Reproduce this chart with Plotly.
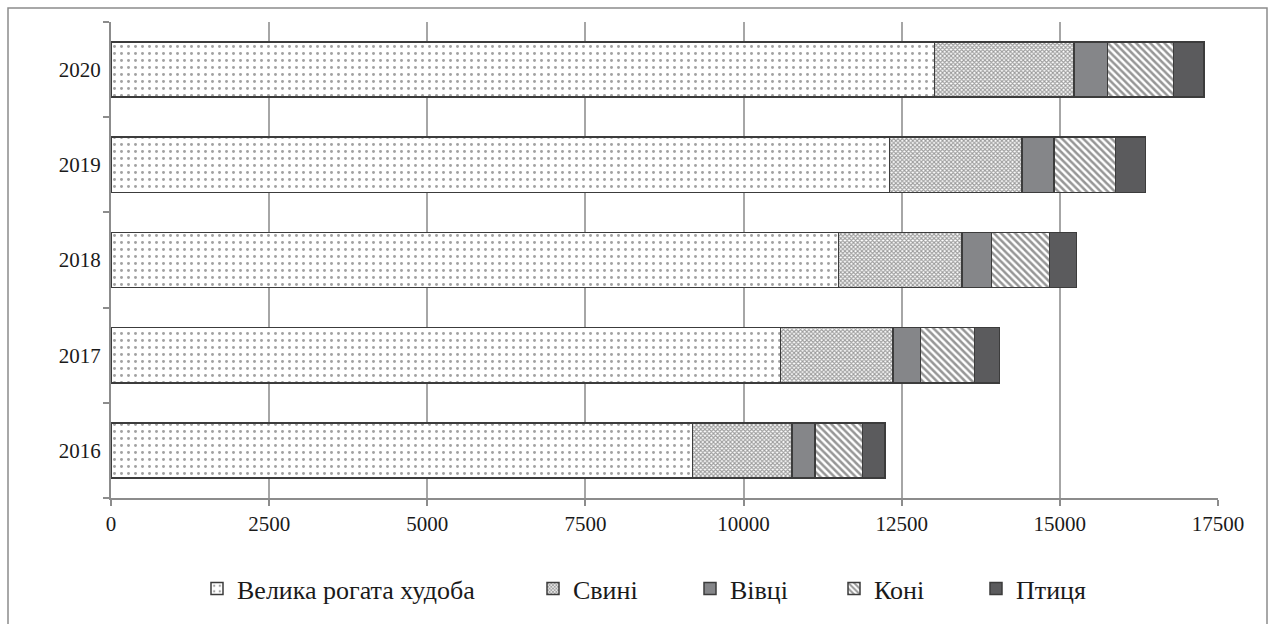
import plotly.graph_objects as go

years = ["2016", "2017", "2018", "2019", "2020"]
series_names = ["Велика рогата худоба", "Свині", "Вівці", "Коні", "Птиця"]
cattle = [9195, 10584, 11502, 12305, 13015]
pigs = [1568, 1779, 1949, 2094, 2205]
sheep = [369, 432, 467, 506, 536]
horses = [747, 852, 919, 976, 1040]
poultry = [358, 395, 426, 470, 484]
x_ticks = [0, 2500, 5000, 7500, 10000, 12500, 15000, 17500]

series_values = [cattle, pigs, sheep, horses, poultry]
styles = [
    dict(color="white", pattern=dict(shape=".", fgcolor="#444444", bgcolor="white", size=7, solidity=0.14)),
    dict(color="white", pattern=dict(shape="x", fgcolor="#3a3a3a", bgcolor="white", size=3, solidity=0.6)),
    dict(color="#858689"),
    dict(color="white", pattern=dict(shape="\\", fgcolor="#2e2e2e", bgcolor="white", size=5, solidity=0.5)),
    dict(color="#5b5b5d"),
]

FONT = "Liberation Serif"

W, H = 1274, 624
ML, MT, MR, MB = 111, 22, 56, 124
PW = W - ML - MR
PH = H - MT - MB

def px_to_paper_x(px):
    return (px - ML) / PW

def px_to_paper_y(py):
    return 1 - (py - MT) / PH

legend_left_px = [197, 533, 690, 834, 976]
legend_keys = ["legend", "legend2", "legend3", "legend4", "legend5"]

fig = go.Figure()
for name, vals, st, lk in zip(series_names, series_values, styles, legend_keys):
    marker = dict(st)
    marker["line"] = dict(color="#3c3c3c", width=1.5)
    fig.add_trace(go.Bar(y=years, x=vals, name=name, orientation="h",
                         marker=marker, legend=lk, showlegend=True))

legend_layouts = {}
for lk, lx in zip(legend_keys, legend_left_px):
    legend_layouts[lk] = dict(
        orientation="h",
        x=px_to_paper_x(lx),
        xanchor="left",
        y=px_to_paper_y(591),
        yanchor="middle",
        font=dict(family=FONT, size=26, color="#1a1a1a"),
        bgcolor="rgba(0,0,0,0)",
        itemwidth=30,
        visible=True,
    )

fig.update_layout(
    showlegend=True,
    barmode="stack",
    bargap=0.42,
    width=W,
    height=H,
    margin=dict(l=ML, r=MR, t=MT, b=MB),
    paper_bgcolor="white",
    plot_bgcolor="white",
    font=dict(family=FONT, size=21, color="#1a1a1a"),
    xaxis=dict(
        range=[0, 17500],
        tickvals=x_ticks,
        ticktext=[str(v) for v in x_ticks],
        showgrid=True,
        gridcolor="#a6a6a6",
        gridwidth=1.5,
        showline=True,
        linecolor="#8c8c8c",
        linewidth=2,
        ticks="outside",
        ticklen=6,
        tickcolor="#8c8c8c",
        tickwidth=1.5,
        zeroline=False,
        tickfont=dict(family=FONT, size=21),
    ),
    yaxis=dict(
        type="category",
        categoryorder="array",
        categoryarray=years,
        showline=True,
        linecolor="#8c8c8c",
        linewidth=2,
        ticks="outside",
        tickson="boundaries",
        ticklen=6,
        tickcolor="#8c8c8c",
        tickwidth=1.5,
        ticklabelstandoff=4,
        showgrid=False,
        tickfont=dict(family=FONT, size=21),
    ),
    shapes=[
        dict(type="rect", xref="paper", yref="paper",
             x0=px_to_paper_x(8), x1=px_to_paper_x(1267),
             y0=px_to_paper_y(640), y1=px_to_paper_y(8),
             line=dict(color="#8c8c8c", width=1.5), fillcolor="rgba(0,0,0,0)", layer="below"),
    ],
    **legend_layouts,
)

fig.write_html(
    "out.html",
    config={"displayModeBar": False},
    post_script="document.body.style.margin='0px';document.body.style.overflow='hidden';",
)
